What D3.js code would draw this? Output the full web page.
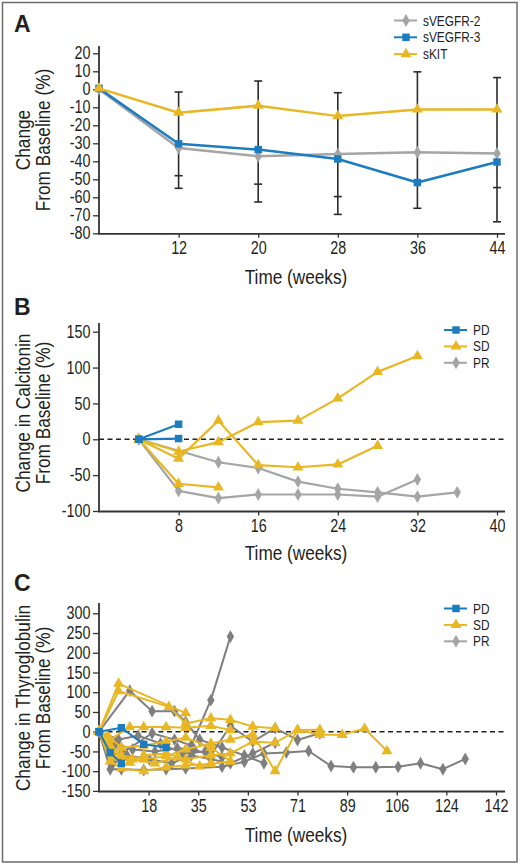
<!DOCTYPE html>
<html><head><meta charset="utf-8">
<script src="https://cdn.jsdelivr.net/npm/d3@7"></script>
<style>
body{margin:0;background:#fff;}
svg text{font-family:"Liberation Sans",Arial,Helvetica,sans-serif;fill:#231f20;}
</style></head><body>
<svg id="c" width="520" height="865"></svg>
<script>
// ---------- Panel A data ----------
const weeksA = [0, 12, 20, 28, 36, 44];
const sVEGFR2 = [0, -32.6, -37.2, -36, -35, -35.6];
const sVEGFR3 = [0.5, -30.3, -33.5, -38.7, -51.8, -40.4];
const sKIT = [0.5, -13, -9.1, -14.9, -11.2, -11.2];
const errTop = [null, -1.5, 4.6, -1.9, 9.7, 6.5];
const errMid = [null, -48, -52.7, -59.6, null, -54.6];
const errBot = [null, -55, -62.6, -69.5, -66.1, -73.6];
const yTicksA = [20, 10, 0, -10, -20, -30, -40, -50, -60, -70, -80];

// ---------- Panel B data (week, % change) ----------
const bPD = [
  [[4, 0], [8, 21]],
  [[4, 0], [8, 1]]
];
const bSD = [
  [[4, 0], [8, -27], [12, 26], [16, -36], [20, -39], [24, -35], [28, -9]],
  [[4, 0], [8, -17], [12, -4], [16, 24], [20, 26], [24, 57], [28, 94], [32, 116]],
  [[4, 0], [8, -62], [12, -67]]
];
const bPR = [
  [[4, 0], [8, -72], [12, -82], [16, -77], [20, -77], [24, -77], [28, -80], [32, -56]],
  [[4, 0], [12, -32], [16, -40], [20, -59], [24, -69], [28, -74], [32, -80], [36, -74]]
];
const xTicksB = [8, 16, 24, 32, 40];
const yTicksB = [150, 100, 50, 0, -50, -100];

// ---------- Panel C data (week, % change) ----------
const cPD = [
  [[0, 0], [4, -53], [8, -80]],
  [[0, 0], [8, 10], [16, -32], [24, -40]]
];
const cSD = [
  [[0, 0], [7, 122], [31, 47]],
  [[0, 0], [7, 103], [25, 63], [31, 21], [40, 34], [47, 30], [55, 13], [63, 9]],
  [[0, 0], [4, -20], [11, 12], [16, 12], [24, 12], [31, 10], [40, 15], [47, 4]],
  [[0, 0], [4, -35], [8, -60], [16, -70], [24, -62], [31, -45], [40, -30], [47, -20], [55, -7], [63, -100], [71, 5], [79, -8], [87, -8], [95, 8], [103, -49]],
  [[0, 0], [4, -75], [8, -93], [16, -100], [24, -90], [31, -85], [40, -82], [47, -75]],
  [[0, 0], [4, -45], [11, -78], [16, -60], [24, -55], [31, -70], [40, -60], [47, -55], [55, -25], [63, -28], [71, 4], [79, 5]],
  [[0, 0], [3, -10], [8, -40], [16, -35], [24, -25], [31, -15], [40, -40], [47, -75]],
  [[0, 0], [5, -65], [12, -70], [20, -80], [28, -65], [36, -88], [40, -80]]
];
const cPR = [
  [[0, 0], [4, -95], [8, -95], [16, -97], [24, -95], [31, -93], [44, -89], [52, -76], [59, -55], [67, -53], [75, -49], [83, -87], [91, -90], [99, -90], [107, -89], [115, -80], [123, -95], [131, -69]],
  [[0, 0], [11, 104], [19, 52], [27, 52], [31, 25], [36, -20], [44, -40], [52, -60], [59, -80]],
  [[0, 0], [4, -60], [8, -55], [19, -4], [27, -20], [33, -35], [40, 80], [47, 241]],
  [[0, 0], [6, -30], [12, -45], [20, -50], [28, -42], [34, -45], [40, -60], [47, 15], [55, -25], [63, 9], [71, -21], [79, -4]],
  [[0, 0], [5, -80], [10, -60], [18, -70], [26, -80], [33, -60], [40, -70], [47, -80], [55, -55], [63, -28]],
  [[0, 0], [7, -20], [14, -10], [22, -30], [30, -55], [38, -50], [44, -65]]
];
const xTicksC = [18, 35, 53, 71, 89, 106, 124, 142];
const yTicksC = [300, 250, 200, 150, 100, 50, 0, -50, -100, -150];

// ---------- styling ----------
const BLUE = "#1c7cc0", GOLD = "#e8b723", LGRAY = "#a5a5a6", DGRAY = "#7f7f80", AX = "#333";
const SQ = 0.82; // horizontal condensing of the typeface
const svg = d3.select("#c");

svg.append("rect").attr("x", 2.5).attr("y", 2.5).attr("width", 514.5).attr("height", 859.5)
  .attr("fill", "none").attr("stroke", "#6d6d6d").attr("stroke-width", 1.5);

const sym = {
  square: d3.symbol().type(d3.symbolSquare).size(56),
  diamond: d3.symbol().type(d3.symbolDiamond).size(48),
  triangle: d3.symbol().type(d3.symbolTriangle).size(52)
};
const plain = d => String(d);

function panelLetter(t, y) {
  svg.append("text").attr("x", 14).attr("y", y).text(t)
    .style("font-weight", "bold").style("font-size", "23px");
}
function yTitle(lines, cy) {
  const xs = [30, 50];
  lines.forEach((l, i) => {
    svg.append("text").attr("transform", `translate(${xs[i]},${cy}) rotate(-90) scale(${SQ},1)`)
      .attr("text-anchor", "middle").style("font-size", "21px").text(l);
  });
}
function xTitle(y) {
  svg.append("text").attr("transform", `translate(296,${y}) scale(${SQ},1)`).attr("text-anchor", "middle")
    .style("font-size", "21px").text("Time (weeks)");
}
function drawYAxis(y, ticks, top, bottom) {
  const g = svg.append("g").attr("transform", "translate(99,0)")
    .call(d3.axisLeft(y).tickValues(ticks).tickFormat(plain).tickSize(6).tickSizeOuter(0).tickPadding(3));
  g.select(".domain").remove();
  g.selectAll("line").attr("stroke", AX).attr("stroke-width", 1.3);
  g.selectAll("text").style("font-size", "17.5px").style("font-family", null).attr("fill", "#231f20")
    .attr("x", 0).attr("transform", `translate(-8.5,0) scale(${SQ},1)`);
  svg.append("line").attr("x1", 99).attr("x2", 99).attr("y1", top).attr("y2", bottom)
    .attr("stroke", AX).attr("stroke-width", 1.8);
}
function drawXAxis(axis, yPos, right) {
  const g = svg.append("g").attr("transform", `translate(0,${yPos})`).call(axis);
  g.select(".domain").remove();
  g.selectAll("line").attr("stroke", AX).attr("stroke-width", 1.3);
  g.selectAll("text").style("font-size", "17.5px").style("font-family", null).attr("fill", "#231f20")
    .attr("transform", `scale(${SQ},1)`);
  svg.append("line").attr("x1", 98).attr("x2", right).attr("y1", yPos).attr("y2", yPos)
    .attr("stroke", AX).attr("stroke-width", 1.8);
}
function legend(items, x, y0, dy) {
  items.forEach((it, i) => {
    const y = y0 + i * dy;
    svg.append("line").attr("x1", x).attr("x2", x + 23).attr("y1", y).attr("y2", y)
      .attr("stroke", it.c).attr("stroke-width", 2);
    svg.append("path").attr("d", sym[it.s]()).attr("transform", `translate(${x + 12},${y})`).attr("fill", it.c);
    svg.append("text").attr("transform", `translate(${x + 29},${y + 5}) scale(${SQ},1)`)
      .style("font-size", "14.5px").text(it.t);
  });
}
function series(data, xs, ys, color, shape, lw) {
  const line = d3.line().x(d => xs(d[0])).y(d => ys(d[1]));
  const g = svg.append("g");
  data.forEach(s => {
    g.append("path").attr("d", line(s)).attr("fill", "none").attr("stroke", color)
      .attr("stroke-width", lw).attr("stroke-linejoin", "round");
  });
  data.forEach(s => {
    g.selectAll(null).data(s).enter().append("path").attr("d", sym[shape]())
      .attr("transform", d => `translate(${xs(d[0])},${ys(d[1])})`).attr("fill", color);
  });
}

// ================= Panel A =================
panelLetter("A", 32);
const xA = d3.scalePoint().domain(weeksA).range([99, 497]);
const yA = d3.scaleLinear().domain([-80, 20]).range([233.3, 53.3]);
drawYAxis(yA, yTicksA, 46, 234);
drawXAxis(d3.axisBottom(xA).tickValues(weeksA.slice(1)).tickSize(4).tickSizeOuter(0).tickPadding(4), 233.8, 505);
yTitle(["Change", "From Baseline (%)"], 140);
xTitle(284);

// error bars
const eb = svg.append("g").attr("stroke", "#2b2b2b").attr("stroke-width", 1.6);
weeksA.forEach((w, i) => {
  if (errTop[i] == null) return;
  const x = xA(w);
  eb.append("line").attr("x1", x).attr("x2", x).attr("y1", yA(errTop[i])).attr("y2", yA(errBot[i]));
  [errTop[i], errMid[i], errBot[i]].forEach(v => {
    if (v == null) return;
    eb.append("line").attr("x1", x - 4).attr("x2", x + 4).attr("y1", yA(v)).attr("y2", yA(v));
  });
});
const toPairs = vals => weeksA.map((w, i) => [w, vals[i]]);
series([toPairs(sVEGFR2)], xA, yA, LGRAY, "diamond", 2.5);
series([toPairs(sVEGFR3)], xA, yA, BLUE, "square", 2.5);
series([toPairs(sKIT)], xA, yA, GOLD, "triangle", 2.5);
legend([{t: "sVEGFR-2", c: LGRAY, s: "diamond"}, {t: "sVEGFR-3", c: BLUE, s: "square"}, {t: "sKIT", c: GOLD, s: "triangle"}], 394, 20.5, 16.8);

// ================= Panel B =================
panelLetter("B", 315);
const xB = d3.scaleLinear().domain([0, 40]).range([99, 497]);
const yB = d3.scaleLinear().domain([-100, 150]).range([511, 331.7]);
drawYAxis(yB, yTicksB, 323, 511.5);
drawXAxis(d3.axisBottom(xB).tickValues(xTicksB).tickSize(4).tickSizeOuter(0).tickPadding(4), 511.5, 505);
svg.append("line").attr("x1", 99).attr("x2", 506).attr("y1", yB(0)).attr("y2", yB(0))
  .attr("stroke", "#222").attr("stroke-width", 1.5).attr("stroke-dasharray", "5,3.5");
yTitle(["Change in Calcitonin", "From Baseline (%)"], 413);
xTitle(560);
series(bPR, xB, yB, LGRAY, "diamond", 2.2);
series(bSD, xB, yB, GOLD, "triangle", 2.2);
series(bPD, xB, yB, BLUE, "square", 2.2);
legend([{t: "PD", c: BLUE, s: "square"}, {t: "SD", c: GOLD, s: "triangle"}, {t: "PR", c: LGRAY, s: "diamond"}], 444, 330, 16.4);

// ================= Panel C =================
panelLetter("C", 591);
const xC = d3.scaleLinear().domain([0, 142]).range([99, 496]);
const yC = d3.scaleLinear().domain([-150, 300]).range([790.9, 613.3]);
drawYAxis(yC, yTicksC, 603, 791.5);
drawXAxis(d3.axisBottom(xC).tickValues(xTicksC.map((d, i) => (i + 1) * 142 / 8)).tickFormat((d, i) => xTicksC[i])
  .tickSize(4).tickSizeOuter(0).tickPadding(4), 791.5, 505);
svg.append("line").attr("x1", 99).attr("x2", 506).attr("y1", yC(0)).attr("y2", yC(0))
  .attr("stroke", "#222").attr("stroke-width", 1.5).attr("stroke-dasharray", "5,3.5");
yTitle(["Change in Thyroglobulin", "From Baseline (%)"], 698);
xTitle(842);
series(cPR, xC, yC, DGRAY, "diamond", 2);
series(cSD, xC, yC, GOLD, "triangle", 2);
series(cPD, xC, yC, BLUE, "square", 2);
legend([{t: "PD", c: BLUE, s: "square"}, {t: "SD", c: GOLD, s: "triangle"}, {t: "PR", c: LGRAY, s: "diamond"}], 444, 608.5, 16.4);
</script></body></html>
